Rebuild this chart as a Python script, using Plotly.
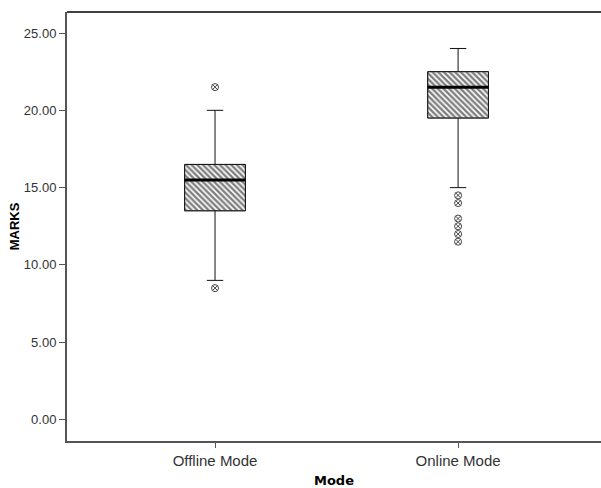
import plotly.graph_objects as go

categories = ["Offline Mode", "Online Mode"]
positions = [0, 1]
q1 = [13.5, 19.5]
median = [15.5, 21.5]
q3 = [16.5, 22.5]
lower_whisker = [9.0, 15.0]
upper_whisker = [20.0, 24.0]
outliers = {
    "Offline Mode": [21.5, 8.5],
    "Online Mode": [14.5, 14.0, 13.0, 12.5, 12.0, 11.5],
}
y_ticks = [0, 5, 10, 15, 20, 25]

box_w = 0.25

fig = go.Figure()

# hatched box body
fig.add_trace(go.Bar(
    x=positions, y=[b - a for a, b in zip(q1, q3)], base=q1, width=box_w,
    marker=dict(color="white", line=dict(color="#777777", width=1),
                pattern=dict(shape="\\", fgcolor="#000000", bgcolor="white",
                             size=4, solidity=0.6)),
    hoverinfo="skip", showlegend=False,
))

# whiskers and caps
fig.add_trace(go.Box(
    x=positions, q1=q1, median=median, q3=q3,
    lowerfence=lower_whisker, upperfence=upper_whisker,
    width=box_w, whiskerwidth=0.27,
    fillcolor="rgba(0,0,0,0)", line=dict(color="#111111", width=1),
    boxpoints=False, showlegend=False,
))

# thick median line
mx, my = [], []
for p, m in zip(positions, median):
    mx += [p - box_w / 2, p + box_w / 2, None]
    my += [m, m, None]
fig.add_trace(go.Scatter(x=mx, y=my, mode="lines",
                         line=dict(color="black", width=3),
                         hoverinfo="skip", showlegend=False))

# outliers
ox, oy = [], []
for p, c in zip(positions, categories):
    for v in outliers[c]:
        ox.append(p)
        oy.append(v)
fig.add_trace(go.Scatter(x=ox, y=oy, mode="markers",
                         marker=dict(symbol="circle-x", size=7, color="white",
                                     line=dict(color="#444444", width=1)),
                         showlegend=False))

fig.update_layout(
    width=601, height=488,
    margin=dict(l=67, r=0, t=12, b=47),
    plot_bgcolor="white", paper_bgcolor="white",
    font=dict(family="Liberation Sans, Arial, sans-serif", size=12, color="#333333"),
    showlegend=False,
    shapes=[dict(type="line", xref="paper", yref="paper", x0=0, x1=1, y0=1, y1=1,
                 line=dict(color="black", width=1.5))],
)
fig.update_xaxes(
    range=[-0.609, 1.588], tickvals=positions, ticktext=categories,
    showgrid=False, zeroline=False, showline=True, linecolor="#555555", linewidth=2,
    ticks="outside", ticklen=5, tickcolor="#555555",
    tickfont=dict(size=15, color="#333333"),
    title=dict(text="<b>Mode</b>", standoff=9,
               font=dict(family="DejaVu Sans, Verdana, sans-serif", size=13, color="black")),
)
fig.update_yaxes(
    range=[-1.39, 26.36], tickvals=y_ticks, ticktext=[f"{v:.2f}" for v in y_ticks],
    showgrid=False, zeroline=False, showline=True, linecolor="#555555", linewidth=2,
    ticks="outside", ticklen=6, tickcolor="#555555",
    tickfont=dict(size=13, color="#333333"),
    title=dict(text="<b>MARKS</b>", standoff=1,
               font=dict(family="Liberation Sans, Arial, sans-serif", size=13, color="black")),
)

fig.write_html("out.html", config={"displayModeBar": False},
               post_script="document.body.style.margin='0';document.body.style.overflow='hidden';")
